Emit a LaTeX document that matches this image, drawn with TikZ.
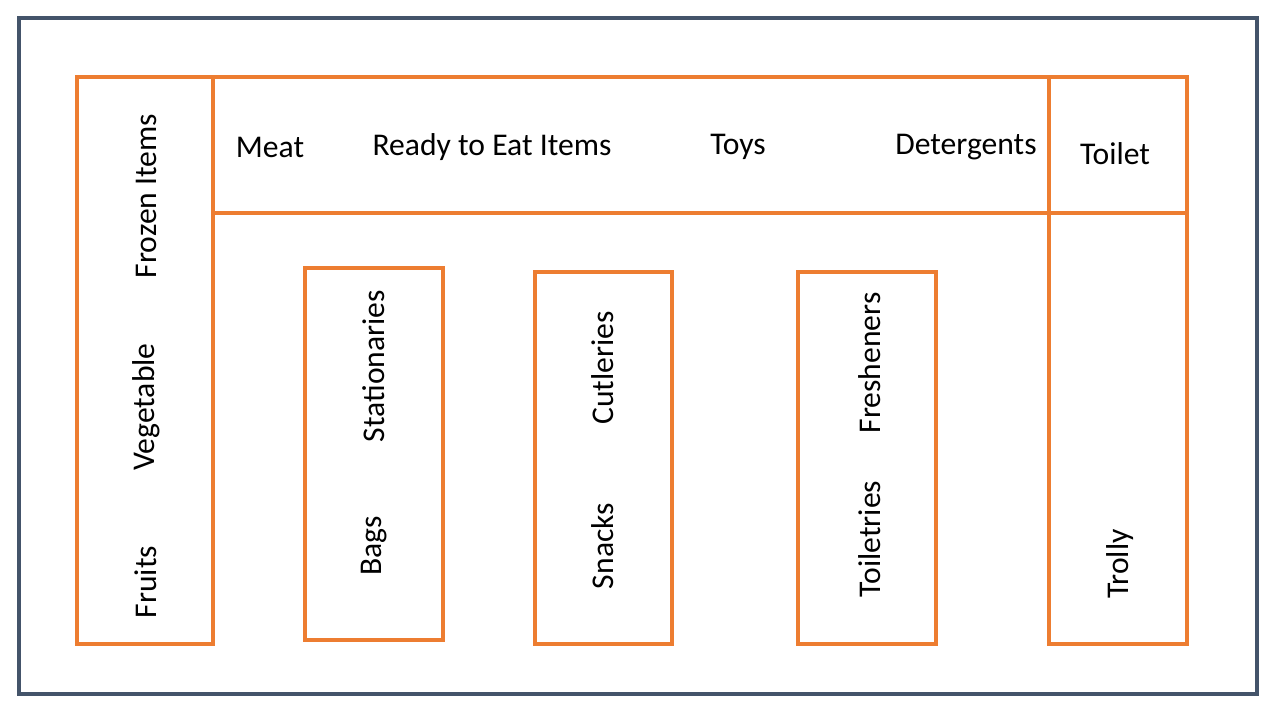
\documentclass[tikz,border=0pt]{standalone}
\usepackage{fontspec}
\setmainfont{Carlito}
\usetikzlibrary{positioning}
\definecolor{shelf}{HTML}{ED7D31}
\definecolor{frame}{HTML}{44546A}
\tikzset{
  wall/.style={draw=frame, line width=2.6pt},
  rack/.style={draw=shelf, line width=2.2pt},
  lbl/.style={font=\fontsize{18}{21}\selectfont, inner sep=0pt},
  vlbl/.style={lbl, rotate=90}
}

\begin{document}
\begin{tikzpicture}[x=0.02cm,y=-0.02cm]
	\useasboundingbox (0,0) rectangle (1280,720);
	% outer wall of the store
	\draw[wall] (19,18) rectangle (1257,694);
	% racks
	\draw[rack] (77,77) rectangle (213,644);
	\draw[rack] (213,77) rectangle (1049,213);
	\draw[rack] (1049,77) rectangle (1187,213);
	\draw[rack] (1049,213) rectangle (1187,644);
	\draw[rack] (305,268) rectangle (443,640);
	\draw[rack] (535,272) rectangle (672,644);
	\draw[rack] (798,272) rectangle (936,644);
	% left column
	\node[vlbl] (frozen) at (146,196) {Frozen Items};
	\node[vlbl] (veg) at (146,407) {Vegetable};
	\node[vlbl] (fruits) at (146,582) {Fruits};
	% top row
	\node[lbl] (meat) at (270,147) {Meat};
	\node[lbl] (ready) at (492,147) {Ready to Eat Items};
	\node[lbl] (toys) at (738,147) {Toys};
	\node[lbl] (deterg) at (966,147) {Detergents};
	\node[lbl] (toilet) at (1115,154) {Toilet};
	% middle racks
	\node[vlbl] (station) at (374,366) {Stationaries};
	\node[vlbl] (bags) at (374,546) {Bags};
	\node[vlbl] (cutl) at (603,368) {Cutleries};
	\node[vlbl] (snacks) at (603,546) {Snacks};
	\node[vlbl] (fresh) at (870,363) {Fresheners};
	\node[vlbl] (toiletr) at (870,539) {Toiletries};
	% right column
	\node[vlbl] (trolly) at (1120,564) {Trolly};
\end{tikzpicture}
\end{document}
